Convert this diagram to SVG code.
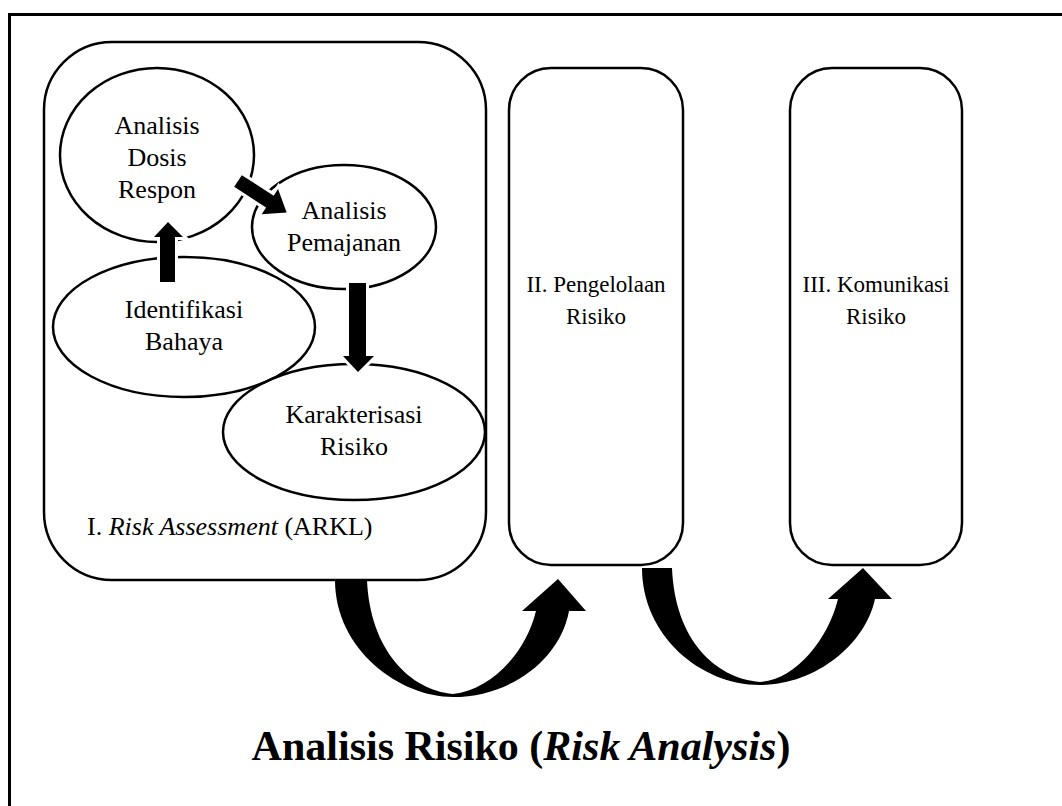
<svg xmlns="http://www.w3.org/2000/svg" width="1062" height="806" viewBox="0 0 1062 806">
<style>
.t{font-family:"Liberation Serif","Times New Roman",serif;font-size:26px;fill:#000;text-anchor:middle}
.s{font-size:23px}
.box{fill:none;stroke:#000;stroke-width:2.5}
.ell{fill:none;stroke:#000;stroke-width:2.5}
.blk{fill:#000;stroke:#fff;stroke-width:6;paint-order:stroke;stroke-linejoin:miter}
.big{fill:#000}
</style>
<rect width="1062" height="806" fill="#fff"/>
<rect id="frame" x="9.5" y="14.5" width="1100" height="900" fill="none" stroke="#000" stroke-width="3"/>
<g id="box1"><rect class="box" x="44" y="42" width="442" height="538" rx="68"/>
<text class="t" x="87" y="535" style="text-anchor:start">I. <tspan font-style="italic">Risk Assessment</tspan> (ARKL)</text></g>
<g id="box2"><rect class="box" x="509" y="68" width="174" height="497" rx="42"/>
<text class="t s" x="596" y="292">II. Pengelolaan</text><text class="t s" x="596" y="324">Risiko</text></g>
<g id="box3"><rect class="box" x="790" y="68" width="172" height="497" rx="42"/>
<text class="t s" x="876" y="292">III. Komunikasi</text><text class="t s" x="876" y="324">Risiko</text></g>
<g id="e1"><ellipse class="ell" cx="157" cy="155" rx="97" ry="87"/>
<text class="t" x="157" y="134">Analisis</text><text class="t" x="157" y="166">Dosis</text><text class="t" x="157" y="198">Respon</text></g>
<g id="e3"><ellipse class="ell" cx="184" cy="327" rx="131" ry="70"/>
<text class="t" x="184" y="318">Identifikasi</text><text class="t" x="184" y="350">Bahaya</text></g>
<g id="e2"><ellipse class="ell" cx="344" cy="227" rx="92" ry="62"/>
<text class="t" x="344" y="219">Analisis</text><text class="t" x="344" y="251">Pemajanan</text></g>
<g id="e4"><ellipse class="ell" cx="354" cy="432" rx="131" ry="68"/>
<text class="t" x="354" y="423">Karakterisasi</text><text class="t" x="354" y="455">Risiko</text></g>
<g id="connectors">
<path class="blk" d="M160 282 L160 237 L154 237 L168 222 L183 237 L175 237 L175 282 Z"/>
<path class="blk" transform="translate(238,181) rotate(33)" d="M0 -7 L38 -7 L38 -15 L58 0 L38 15 L38 7 L0 7 Z"/>
<path class="blk" d="M349 283 L366 283 L366 356 L374 356 L358 372 L343 356 L349 356 Z"/>
<path class="big" d="M335 580 C335 650 400 697 453 697 C510 697 560 660 569 611 L586 611 L558 579 L522 611 L536 611 C525 655 490 690 453 694 C410 690 370 650 367 580 Z"/>
<path class="big" d="M642 568 C642 635 700 685 760 685 C815 685 865 645 875 599 L892 599 L863 568 L828 599 L838 599 C828 640 795 680 760 682 C715 678 675 640 672 568 Z"/>
</g>
<text x="521" y="760" style="font-family:'Liberation Serif','Times New Roman',serif;font-size:42px;font-weight:bold;text-anchor:middle">Analisis Risiko (<tspan font-style="italic">Risk Analysis</tspan>)</text>
</svg>
